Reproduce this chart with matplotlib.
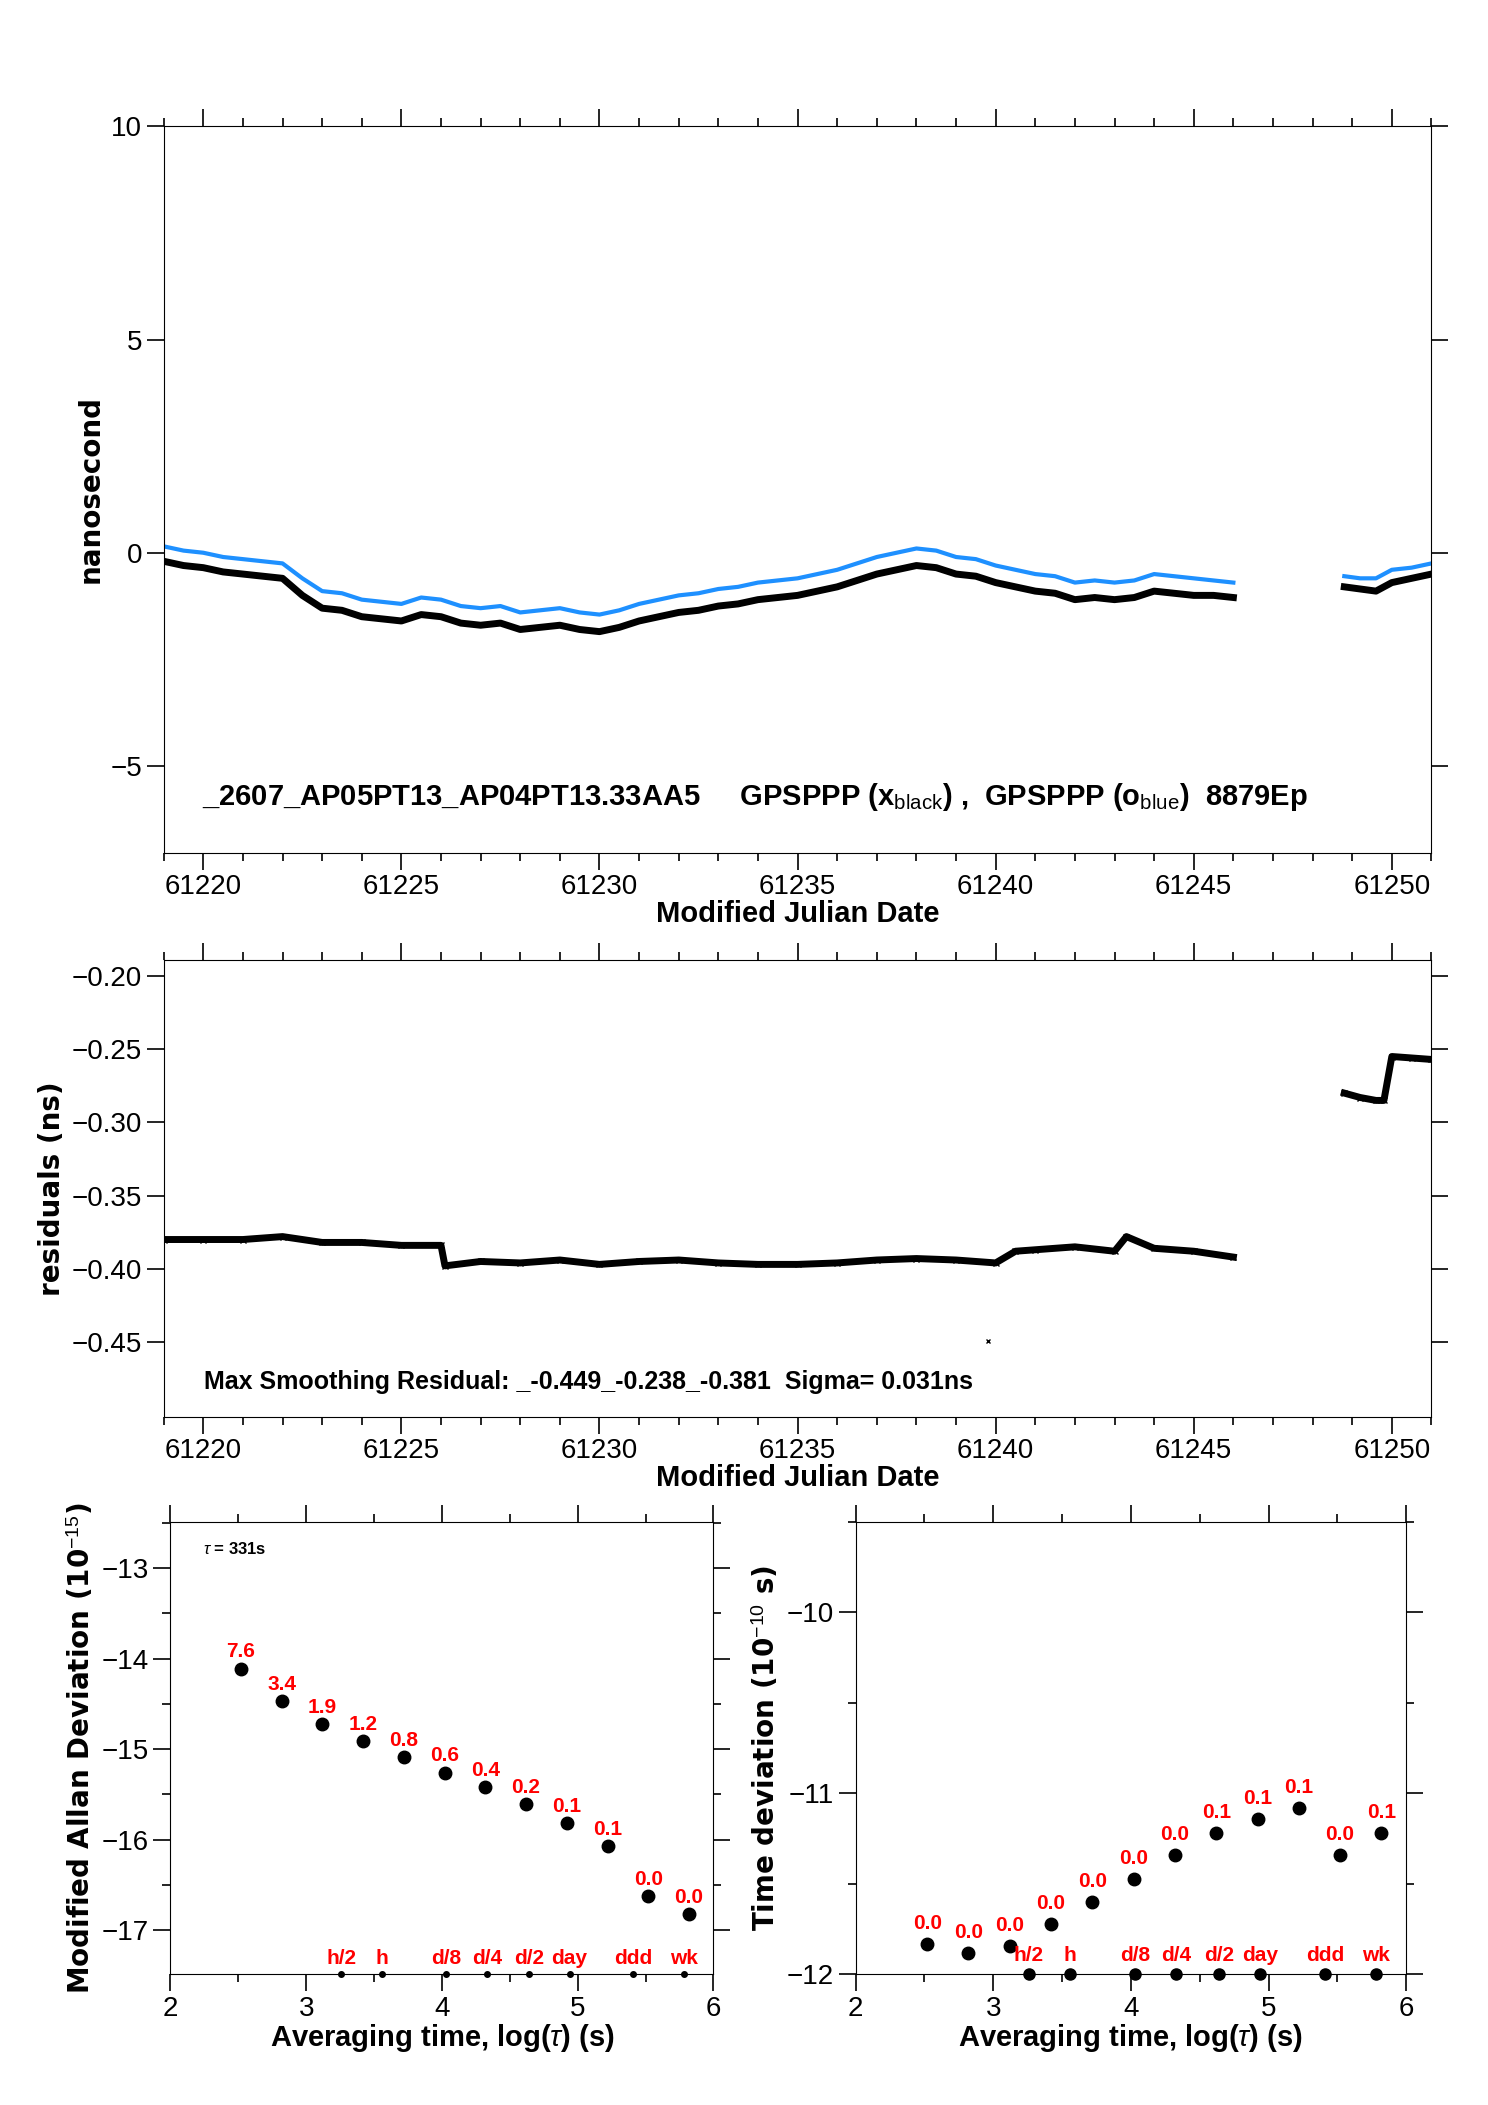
import numpy as np
import matplotlib.pyplot as plt
from matplotlib.ticker import MultipleLocator

plt.rcParams['font.family'] = ['Liberation Sans', 'DejaVu Sans']
plt.rcParams['mathtext.fontset'] = 'custom'
plt.rcParams['mathtext.rm'] = 'Liberation Sans'
plt.rcParams['mathtext.it'] = 'Liberation Sans:italic'

# Phase data (ns)
mjd_a = [61219.0, 61219.5, 61220.0, 61220.5, 61221.0, 61221.5, 61222.0, 61222.5, 61223.0, 61223.5,
         61224.0, 61224.5, 61225.0, 61225.5, 61226.0, 61226.5, 61227.0, 61227.5, 61228.0, 61228.5,
         61229.0, 61229.5, 61230.0, 61230.5, 61231.0, 61231.5, 61232.0, 61232.5, 61233.0, 61233.5,
         61234.0, 61234.5, 61235.0, 61235.5, 61236.0, 61236.5, 61237.0, 61237.5, 61238.0, 61238.5,
         61239.0, 61239.5, 61240.0, 61240.5, 61241.0, 61241.5, 61242.0, 61242.5, 61243.0, 61243.5,
         61244.0, 61244.5, 61245.0, 61245.5, 61246.0]
black_a = [-0.2, -0.3, -0.35, -0.45, -0.5, -0.55, -0.6, -1.0, -1.3, -1.35,
           -1.5, -1.55, -1.6, -1.45, -1.5, -1.65, -1.7, -1.65, -1.8, -1.75,
           -1.7, -1.8, -1.85, -1.75, -1.6, -1.5, -1.4, -1.35, -1.25, -1.2,
           -1.1, -1.05, -1.0, -0.9, -0.8, -0.65, -0.5, -0.4, -0.3, -0.35,
           -0.5, -0.55, -0.7, -0.8, -0.9, -0.95, -1.1, -1.05, -1.1, -1.05,
           -0.9, -0.95, -1.0, -1.0, -1.05]
blue_a = [0.15, 0.05, 0.0, -0.1, -0.15, -0.2, -0.25, -0.6, -0.9, -0.95,
          -1.1, -1.15, -1.2, -1.05, -1.1, -1.25, -1.3, -1.25, -1.4, -1.35,
          -1.3, -1.4, -1.45, -1.35, -1.2, -1.1, -1.0, -0.95, -0.85, -0.8,
          -0.7, -0.65, -0.6, -0.5, -0.4, -0.25, -0.1, 0.0, 0.1, 0.05,
          -0.1, -0.15, -0.3, -0.4, -0.5, -0.55, -0.7, -0.65, -0.7, -0.65,
          -0.5, -0.55, -0.6, -0.65, -0.7]
mjd_b = [61248.8, 61249.2, 61249.6, 61250.0, 61250.5, 61251.0]
black_b = [-0.8, -0.85, -0.9, -0.7, -0.6, -0.5]
blue_b = [-0.55, -0.6, -0.6, -0.4, -0.35, -0.25]

# Smoothing residuals (ns)
res_mjd = [61219.0, 61220.0, 61221.0, 61222.0, 61223.0, 61224.0, 61225.0, 61226.0, 61226.1, 61227.0,
           61228.0, 61229.0, 61230.0, 61231.0, 61232.0, 61233.0, 61234.0, 61235.0, 61236.0, 61237.0,
           61238.0, 61239.0, 61240.0, 61240.5, 61241.0, 61242.0, 61243.0, 61243.3, 61244.0, 61245.0, 61246.0]
res_val = [-0.38, -0.38, -0.38, -0.378, -0.382, -0.382, -0.384, -0.384, -0.398, -0.395,
           -0.396, -0.394, -0.397, -0.395, -0.394, -0.396, -0.397, -0.397, -0.396, -0.394,
           -0.393, -0.394, -0.396, -0.388, -0.387, -0.385, -0.388, -0.378, -0.386, -0.388, -0.392]
res_mjd_b = [61248.8, 61249.2, 61249.6, 61249.8, 61250.0, 61250.5, 61251.0]
res_val_b = [-0.28, -0.283, -0.285, -0.285, -0.255, -0.256, -0.257]

# Stability
log_tau = [2.52, 2.82, 3.12, 3.42, 3.72, 4.02, 4.32, 4.62, 4.92, 5.22, 5.52, 5.82]
mdev = [-14.11, -14.47, -14.72, -14.91, -15.09, -15.26, -15.42, -15.61, -15.82, -16.07, -16.62, -16.82]
mdev_lbl = ['7.6', '3.4', '1.9', '1.2', '0.8', '0.6', '0.4', '0.2', '0.1', '0.1', '0.0', '0.0']
tdev = [-11.83, -11.88, -11.84, -11.72, -11.6, -11.47, -11.34, -11.22, -11.14, -11.08, -11.34, -11.22]
tdev_lbl = ['0.0', '0.0', '0.0', '0.0', '0.0', '0.0', '0.0', '0.1', '0.1', '0.1', '0.0', '0.1']
mark_x = [3.26, 3.56, 4.03, 4.33, 4.64, 4.94, 5.41, 5.78]
mark_lbl = ['h/2', 'h', 'd/8', 'd/4', 'd/2', 'day', 'ddd', 'wk']

RED = '#ff0000'
BLUE = '#1e90ff'
TS = 20

fig = plt.figure(figsize=(14.88, 21.05), dpi=100)


def style(ax):
    ax.tick_params(which='both', direction='out', top=True, right=True, labelsize=TS, width=1.2)
    ax.tick_params(which='major', length=12)
    ax.tick_params(which='minor', length=6)


def mjd_axis(ax):
    ax.set_xlim(61219.0, 61251.0)
    ax.xaxis.set_major_locator(MultipleLocator(5))
    ax.xaxis.set_minor_locator(MultipleLocator(1))
    ax.set_xlabel('Modified Julian Date', fontsize=21, fontweight='bold', labelpad=0)


ax1 = fig.add_axes([0.110, 0.595, 0.852, 0.345])
ax1.plot(mjd_a, blue_a, color=BLUE, lw=3)
ax1.plot(mjd_b, blue_b, color=BLUE, lw=3)
ax1.plot(mjd_a, black_a, color='black', lw=5)
ax1.plot(mjd_b, black_b, color='black', lw=5)
mjd_axis(ax1)
ax1.set_ylim(-7.03, 10)
ax1.set_yticks([-5, 0, 5, 10], ['\u22125', '0', '5', '10'])
ax1.set_ylabel('nanosecond', fontsize=20, fontweight='bold', family='DejaVu Sans')
ax1.text(0.03, 0.065, '_2607_AP05PT13_AP04PT13.33AA5     GPSPPP (x$_{\\rm black}$) ,  GPSPPP (o$_{\\rm blue}$)  8879Ep',
         transform=ax1.transAxes, fontsize=21, fontweight='bold')
style(ax1)

ax2 = fig.add_axes([0.110, 0.327, 0.852, 0.217])
ax2.plot(res_mjd, res_val, color='black', lw=5, marker='x', ms=4)
ax2.plot(res_mjd_b, res_val_b, color='black', lw=5, marker='x', ms=4)
ax2.plot([61239.8], [-0.449], 'x', color='black', ms=3)
mjd_axis(ax2)
ax2.set_ylim(-0.501, -0.189)
yt = [-0.45, -0.40, -0.35, -0.30, -0.25, -0.20]
ax2.set_yticks(yt, ['\u2212%.2f' % abs(v) for v in yt])
ax2.set_ylabel('residuals (ns)', fontsize=20, fontweight='bold', family='DejaVu Sans')
ax2.text(0.032, 0.06, 'Max Smoothing Residual: _-0.449_-0.238_-0.381  Sigma= 0.031ns',
         transform=ax2.transAxes, fontsize=18, fontweight='bold')
style(ax2)


def stab_axis(ax):
    ax.set_xlim(2, 6)
    ax.xaxis.set_major_locator(MultipleLocator(1))
    ax.xaxis.set_minor_locator(MultipleLocator(0.5))
    ax.yaxis.set_minor_locator(MultipleLocator(0.5))
    ax.set_xlabel('Averaging time, log($\\tau$) (s)', fontsize=21, fontweight='bold', labelpad=0)
    style(ax)


ax3 = fig.add_axes([0.1145, 0.062, 0.365, 0.215])
ax3.plot(log_tau, mdev, 'o', color='black', ms=9)
for x, y, s in zip(log_tau, mdev, mdev_lbl):
    ax3.text(x, y + 0.08, s, color=RED, fontsize=15, fontweight='bold', ha='center', va='bottom')
ax3.set_ylim(-17.49, -12.49)
ax3.plot(mark_x, [-17.49] * len(mark_x), 'o', color='black', ms=4, clip_on=False)
for x, s in zip(mark_x, mark_lbl):
    ax3.text(x, -17.42, s, color=RED, fontsize=15, fontweight='bold', ha='center', va='bottom')
ax3.set_yticks([-17, -16, -15, -14, -13], ['\u221217', '\u221216', '\u221215', '\u221214', '\u221213'])
ax3.set_ylabel('Modified Allan Deviation (10$^{-15}$)', fontsize=20, fontweight='bold', family='DejaVu Sans')
ax3.text(0.06, 0.93, '$\\tau$ = 331s', transform=ax3.transAxes, fontsize=12, fontweight='bold')
stab_axis(ax3)

ax4 = fig.add_axes([0.575, 0.062, 0.37, 0.215])
ax4.plot(log_tau, tdev, 'o', color='black', ms=9)
for x, y, s in zip(log_tau, tdev, tdev_lbl):
    ax4.text(x, y + 0.06, s, color=RED, fontsize=15, fontweight='bold', ha='center', va='bottom')
ax4.set_ylim(-12, -9.5)
ax4.plot(mark_x, [-12] * len(mark_x), 'o', color='black', ms=8, clip_on=False)
for x, s in zip(mark_x, mark_lbl):
    ax4.text(x, -11.95, s, color=RED, fontsize=15, fontweight='bold', ha='center', va='bottom')
ax4.set_yticks([-12, -11, -10], ['\u221212', '\u221211', '\u221210'])
ax4.set_ylabel('Time deviation (10$^{-10}$ s)', fontsize=20, fontweight='bold', family='DejaVu Sans')
stab_axis(ax4)

fig.savefig('out.png', dpi=100)
